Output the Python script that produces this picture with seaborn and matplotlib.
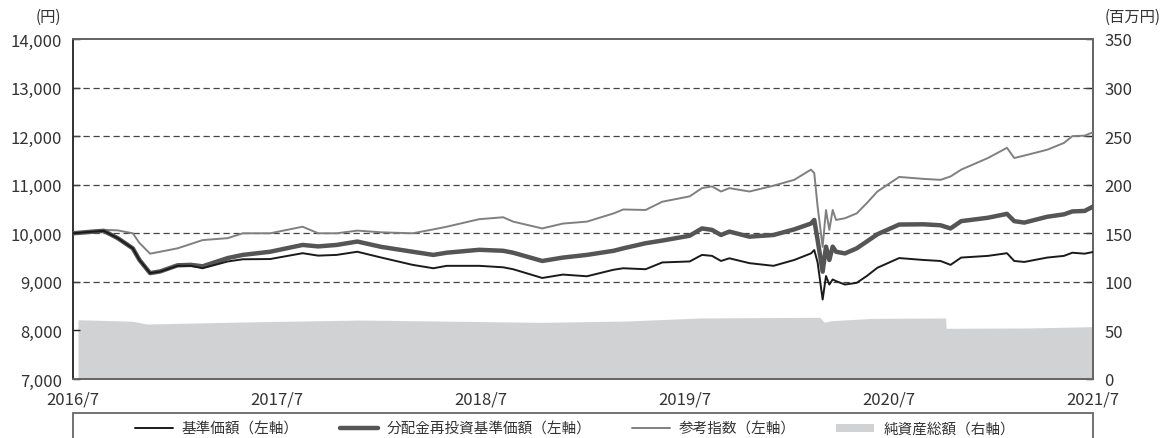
import numpy as np
import pandas as pd
import matplotlib
matplotlib.use("Agg")
import matplotlib.pyplot as plt
from matplotlib.patches import Rectangle
from matplotlib.lines import Line2D
from matplotlib.patches import Patch
import seaborn as sns

# ── data ──────────────────────────────────────────────────
dates = ["2016-07-01", "2016-08-01", "2016-08-25", "2016-09-19", "2016-10-16",
         "2016-10-28", "2016-11-16", "2016-12-04", "2017-01-04", "2017-01-28",
         "2017-02-18", "2017-04-04", "2017-05-01", "2017-06-19", "2017-08-16",
         "2017-09-13", "2017-10-16", "2017-11-22", "2018-01-04", "2018-03-01",
         "2018-04-07", "2018-05-01", "2018-06-28", "2018-08-10", "2018-08-28",
         "2018-10-19", "2018-11-25", "2019-01-07", "2019-02-24", "2019-03-13",
         "2019-04-22", "2019-05-22", "2019-07-10", "2019-08-01", "2019-08-19",
         "2019-09-04", "2019-09-19", "2019-10-25", "2019-12-07", "2020-01-13",
         "2020-02-12", "2020-02-18", "2020-02-24", "2020-03-04", "2020-03-10",
         "2020-03-16", "2020-03-22", "2020-03-28", "2020-04-13", "2020-05-04",
         "2020-05-22", "2020-06-10", "2020-07-19", "2020-09-01", "2020-10-01",
         "2020-10-19", "2020-11-07", "2020-12-25", "2021-01-28", "2021-02-10",
         "2021-02-28", "2021-04-10", "2021-05-10", "2021-05-25", "2021-06-16",
         "2021-07-01"]

kijun = [10000, 10030, 10050, 9900, 9690, 9450, 9180, 9210, 9330, 9330,
         9280, 9420, 9465, 9470, 9590, 9540, 9555, 9620, 9500, 9350,
         9280, 9330, 9330, 9300, 9260, 9080, 9150, 9115, 9250, 9280,
         9260, 9400, 9420, 9555, 9535, 9430, 9485, 9385, 9330, 9450,
         9585, 9655, 9400, 8635, 9120, 8945, 9050, 9015, 8945, 8980,
         9120, 9290, 9490, 9450, 9430, 9350, 9500, 9535, 9590, 9430,
         9410, 9500, 9535, 9600, 9580, 9615]

reinvest = [10000, 10030, 10050, 9900, 9690, 9450, 9180, 9215, 9340, 9350,
            9320, 9490, 9555, 9620, 9760, 9730, 9760, 9830, 9720, 9620,
            9555, 9600, 9660, 9640, 9600, 9430, 9500, 9555, 9640, 9690,
            9795, 9850, 9950, 10100, 10070, 9965, 10035, 9930, 9965, 10080,
            10200, 10275, 9860, 9210, 9725, 9450, 9725, 9620, 9585, 9690,
            9830, 9980, 10180, 10185, 10165, 10100, 10250, 10320, 10400, 10250,
            10220, 10340, 10390, 10450, 10460, 10550]

ref_index = [10000, 10040, 10070, 10060, 10000, 9800, 9580, 9620, 9690, 9780,
             9860, 9900, 10000, 10000, 10135, 10000, 10000, 10055, 10020, 10000,
             10080, 10135, 10290, 10330, 10240, 10100, 10200, 10240, 10410, 10490,
             10480, 10650, 10760, 10930, 10965, 10860, 10930, 10860, 10980, 11100,
             11310, 11240, 10550, 9720, 10480, 10070, 10480, 10275, 10310, 10410,
             10620, 10860, 11160, 11120, 11100, 11170, 11310, 11550, 11760, 11550,
             11600, 11720, 11860, 12000, 12010, 12080]

na_dates = ["2016-07-10", "2016-09-13", "2016-10-16", "2016-11-10", "2017-02-01",
            "2017-06-01", "2017-11-28", "2018-05-25", "2018-10-16", "2019-03-19",
            "2019-07-28", "2020-02-28", "2020-03-07", "2020-03-19", "2020-06-01",
            "2020-10-10", "2020-10-11", "2021-03-04", "2021-07-01"]
net_assets = [61.0, 60.0, 59.4, 56.6, 57.6, 59.0, 60.7, 59.4, 58.3, 59.7,
              62.8, 63.5, 58.3, 60.0, 62.4, 62.8, 52.2, 52.5, 53.9]

x_ticks = ["2016-07-01", "2017-07-01", "2018-07-01", "2019-07-01",
           "2020-07-01", "2021-07-01"]
x_labels = ["2016/7", "2017/7", "2018/7", "2019/7", "2020/7", "2021/7"]
left_ticks = [7000, 8000, 9000, 10000, 11000, 12000, 13000, 14000]
right_ticks = [0, 50, 100, 150, 200, 250, 300, 350]
grid_vals = [9000, 10000, 11000, 12000, 13000]

names = ["基準価額（左軸）", "分配金再投資基準価額（左軸）", "参考指数（左軸）", "純資産総額（右軸）"]

# ── style ─────────────────────────────────────────────────
sns.set_style("white")
plt.rcParams["font.family"] = ["Noto Sans CJK JP", "DejaVu Sans"]

df = pd.DataFrame({"date": pd.to_datetime(dates), "kijun": kijun,
                   "reinvest": reinvest, "ref": ref_index})
na = pd.DataFrame({"date": pd.to_datetime(na_dates), "na": net_assets})

fig = plt.figure(figsize=(11.65, 4.39), dpi=100)
ax = fig.add_axes([73/1165, 1-380/439, (1093-73)/1165, (380-40)/439])
ax2 = ax.twinx()

# net assets area (right axis)
ax2.fill_between(na["date"], 0, na["na"], color="#d1d2d4", lw=0)
ax2.set_ylim(0, 350)
ax2.set_yticks(right_ticks)
ax2.set_yticklabels([f"{v:,}" for v in right_ticks])

# lines (left axis) on top of the area
ax.set_zorder(ax2.get_zorder() + 1)
ax.patch.set_visible(False)
for v in grid_vals:
    ax.axhline(v, color="#444444", lw=0.9, ls=(0, (5, 3)), zorder=1)

sns.lineplot(data=df, x="date", y="ref", ax=ax, color="#808080", lw=1.4, zorder=3)
sns.lineplot(data=df, x="date", y="reinvest", ax=ax, color="#555555", lw=3.2, zorder=4)
sns.lineplot(data=df, x="date", y="kijun", ax=ax, color="#1a1a1a", lw=1.4, zorder=5)

ax.set_xlim(pd.Timestamp(x_ticks[0]), pd.Timestamp(x_ticks[-1]))
ax.set_ylim(7000, 14000)
ax.set_yticks(left_ticks)
ax.set_yticklabels([f"{v:,}" for v in left_ticks])
ax.set_xticks(pd.to_datetime(x_ticks))
ax.set_xticklabels(x_labels)
ax.set_xlabel(""); ax.set_ylabel("")

ax.tick_params(axis="y", direction="in", length=5, width=1, pad=8,
               labelsize=12, colors="#222222")
ax.tick_params(axis="x", direction="in", length=7, width=1, pad=8,
               labelsize=12, colors="#222222")
ax2.tick_params(axis="y", direction="in", length=5, width=1, pad=8,
                labelsize=12, colors="#222222")
for t in ax.get_xticklabels() + ax.get_yticklabels() + ax2.get_yticklabels():
    t.set_color("#333333")

for a in (ax, ax2):
    for s in a.spines.values():
        s.set_color("#666666"); s.set_linewidth(1.3)
ax.spines["left"].set_color("#222222")
ax2.spines["left"].set_visible(False)

fig.text(48/1165, 1-17/439, "(円)", ha="center", va="center", fontsize=11, color="#333333")
fig.text(1133/1165, 1-17/439, "(百万円)", ha="center", va="center", fontsize=11, color="#333333")

# legend box below the chart
fig.patches.append(Rectangle((73/1165, -0.05), (1093-73)/1165, 0.05+1-414/439,
                             transform=fig.transFigure, fill=False,
                             edgecolor="#666666", lw=1.3))
handles = [Line2D([], [], color="#1a1a1a", lw=1.4),
           Line2D([], [], color="#555555", lw=3.2),
           Line2D([], [], color="#808080", lw=1.4),
           Patch(facecolor="#d1d2d4", edgecolor="none")]
fig.legend(handles, names, loc="center", bbox_to_anchor=(575/1165, 1-430/439),
           ncol=4, frameon=False, fontsize=10.5, handlelength=2.6,
           handleheight=0.5, columnspacing=2.8, handletextpad=0.6,
           labelcolor="#333333")

fig.savefig("out.png", dpi=100)
